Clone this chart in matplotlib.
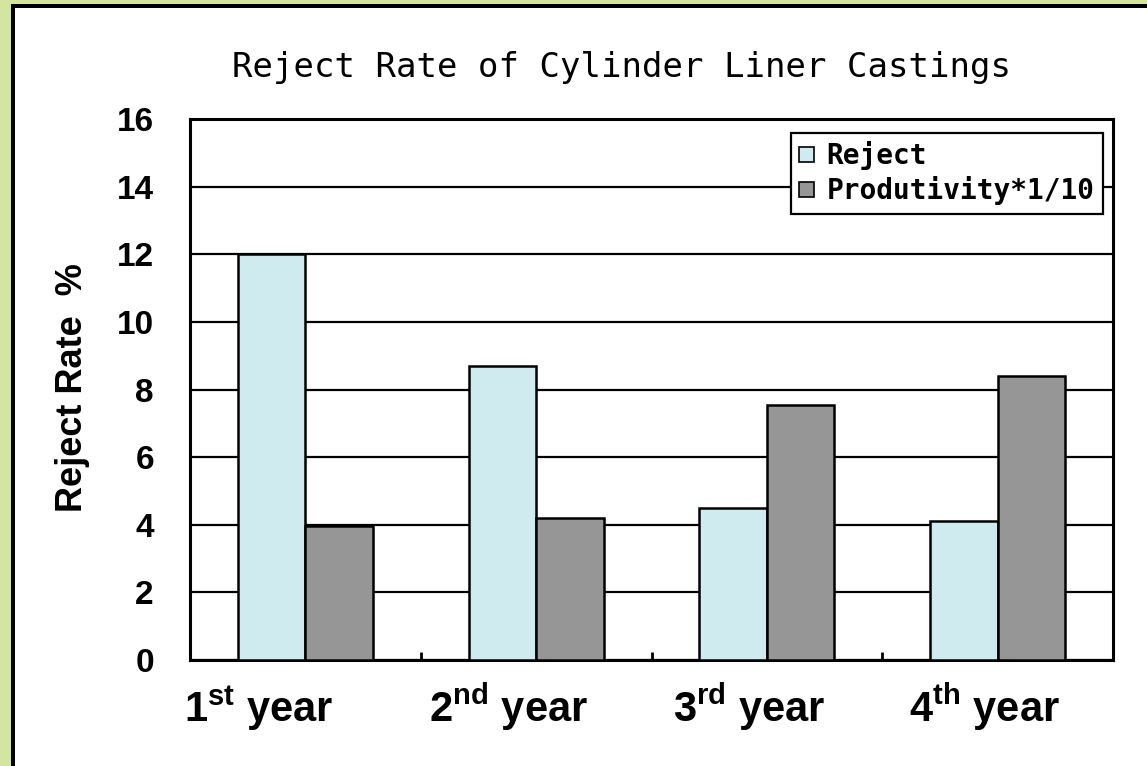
import matplotlib
matplotlib.use("Agg")
import matplotlib.pyplot as plt
from matplotlib.patches import Rectangle
import numpy as np

# ---- data ----
categories = ["1$^{\\mathrm{st}}$ year", "2$^{\\mathrm{nd}}$ year",
              "3$^{\\mathrm{rd}}$ year", "4$^{\\mathrm{th}}$ year"]
reject = [12.0, 8.7, 4.5, 4.1]
productivity = [3.95, 4.2, 7.55, 8.4]
series_names = ["Reject", "Produtivity*1/10"]
yticks = [0, 2, 4, 6, 8, 10, 12, 14, 16]
title = "Reject Rate of Cylinder Liner Castings"
ylabel = "Reject Rate  %"

plt.rcParams['mathtext.fontset'] = 'custom'
plt.rcParams['mathtext.rm'] = 'Liberation Sans:bold'
plt.rcParams['mathtext.bf'] = 'Liberation Sans:bold'

W, H = 1147, 766
fig = plt.figure(figsize=(W / 100, H / 100), dpi=100)
fig.patch.set_facecolor('#D3E59E')

# white slide area with black frame on left/top
fig.patches.append(Rectangle((11 / W, 0), 1, 1 - 4 / H, transform=fig.transFigure,
                             facecolor='black', edgecolor='none', zorder=-10))
fig.patches.append(Rectangle((15 / W, 0), 1, 1 - 8 / H, transform=fig.transFigure,
                             facecolor='white', edgecolor='none', zorder=-9))

ax = fig.add_axes([190 / W, 1 - 660 / H, (1113 - 190) / W, (660 - 119) / H])
ax.set_zorder(1)
ax.set_facecolor('white')

x = np.arange(len(categories))
bw = 0.2925
ax.bar(x - bw / 2, reject, bw, color='#CFEBEF', edgecolor='black', linewidth=1.8,
       label=series_names[0], zorder=3)
ax.bar(x + bw / 2, productivity, bw, color='#969696', edgecolor='black', linewidth=1.8,
       label=series_names[1], zorder=3)

ax.set_xlim(-0.5, len(categories) - 0.5)
ax.set_ylim(0, 16)
ax.set_yticks(yticks)
ax.set_yticklabels([str(v) for v in yticks], fontfamily='Liberation Sans',
                   fontweight='bold', fontsize=24)
ax.tick_params(axis='y', length=0, pad=26)
ax.yaxis.grid(True, color='black', linewidth=1.6, zorder=1)
ax.set_axisbelow(True)

ax.set_xticks(x[:-1] + 0.5)
ax.set_xticklabels([])
ax.tick_params(axis='x', direction='in', length=6, width=2, color='black')

for s in ax.spines.values():
    s.set_linewidth(2.2)
    s.set_color('black')

# category labels (text boxes below the axis)
label_x = [259, 508, 749, 984]
for lab, px in zip(categories, label_x):
    fig.text(px / W, 1 - 722 / H, lab, ha='center', va='baseline',
             fontfamily='Liberation Sans', fontweight='bold', fontsize=30)

fig.text(622 / W, 1 - 68 / H, title, ha='center', va='center',
         fontfamily='DejaVu Sans Mono', fontsize=24.5)

fig.text(72 / W, 1 - 388 / H, ylabel, ha='center', va='center', rotation=90,
         fontfamily='Liberation Sans', fontweight='bold', fontsize=26)

leg = ax.legend(loc='upper right', bbox_to_anchor=((1103 - 190) / 923, (660 - 133) / 541),
                prop={'family': 'DejaVu Sans Mono', 'weight': 'bold', 'size': 20},
                frameon=True, fancybox=False, handlelength=0.55, handleheight=0.45,
                handletextpad=0.45, borderpad=0.3, labelspacing=0.22, borderaxespad=0)
leg.get_frame().set_edgecolor('black')
leg.get_frame().set_linewidth(1.6)
leg.get_frame().set_alpha(1)
for h in leg.legend_handles:
    h.set_linewidth(1.2)

fig.savefig('out.png', dpi=100, facecolor=fig.get_facecolor())
